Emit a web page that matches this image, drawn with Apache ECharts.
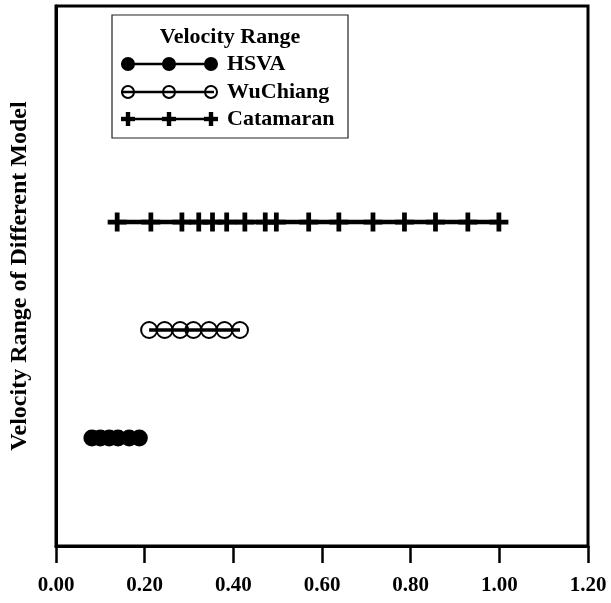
<!DOCTYPE html>
<html>
<head>
<meta charset="utf-8">
<script src="https://cdn.jsdelivr.net/npm/echarts@6/dist/echarts.min.js"></script>
<style>html,body{margin:0;padding:0;background:#fff}#c{width:611px;height:603px}</style>
</head>
<body>
<div id="c"></div>
<script>
var seriesNames = ['HSVA', 'WuChiang', 'Catamaran'];
var levels = [1, 2, 3];
var hsvaX = [0.081, 0.10, 0.12, 0.14, 0.165, 0.188];
var wuchiangX = [0.21, 0.245, 0.28, 0.31, 0.345, 0.38, 0.415];
var catamaranX = [0.138, 0.214, 0.284, 0.322, 0.353, 0.385, 0.426, 0.472, 0.497, 0.570, 0.638, 0.715, 0.786, 0.856, 0.929, 0.999];
var xTicks = [0, 0.2, 0.4, 0.6, 0.8, 1.0, 1.2];
var legendTitle = 'Velocity Range';
var yAxisTitle = 'Velocity Range of Different Model';

var FONT = '"Liberation Serif", "Times New Roman", serif';
var CROSS = 'path://M6,0H10V6H16V10H10V16H6V10H0V6H6Z';

function pts(xs, y) { return xs.map(function (x) { return [x, y]; }); }

var chart = echarts.init(document.getElementById('c'), null, {renderer: 'canvas'});

function legendItem(i, y, symbol) {
  var els = [];
  els.push({type: 'line', shape: {x1: 121, y1: y, x2: 214, y2: y}, style: {stroke: '#000', lineWidth: 2.5}});
  [128, 169, 211].forEach(function (cx) {
    if (symbol === 'dot') {
      els.push({type: 'circle', shape: {cx: cx, cy: y, r: 7}, style: {fill: '#000'}});
    } else if (symbol === 'ring') {
      els.push({type: 'circle', shape: {cx: cx, cy: y, r: 6}, style: {fill: 'rgba(0,0,0,0)', stroke: '#000', lineWidth: 2}});
    } else {
      els.push({type: 'rect', shape: {x: cx - 7, y: y - 2.2, width: 14, height: 4.4}, style: {fill: '#000'}});
      els.push({type: 'rect', shape: {x: cx - 2.2, y: y - 7, width: 4.4, height: 14}, style: {fill: '#000'}});
    }
  });
  els.push({type: 'text', style: {x: 227, y: y, text: seriesNames[i], font: 'bold 22px ' + FONT, fill: '#000', textVerticalAlign: 'middle', textAlign: 'left'}});
  return els;
}

var graphics = [
  {type: 'rect', shape: {x: 112, y: 15, width: 236, height: 123}, style: {fill: '#fff', stroke: '#222', lineWidth: 1.2}, z: 10},
  {type: 'text', style: {x: 230, y: 37, text: legendTitle, font: 'bold 22px ' + FONT, fill: '#000', textAlign: 'center', textVerticalAlign: 'middle'}, z: 11}
];
var syms = ['dot', 'ring', 'cross'];
var ly = [64, 92, 119];
for (var i = 0; i < 3; i++) {
  legendItem(i, ly[i], syms[i]).forEach(function (e) { e.z = 11; graphics.push(e); });
}

chart.setOption({
  animation: false,
  backgroundColor: '#fff',
  grid: {left: 50, right: 23, top: 6, bottom: 57, show: true, borderColor: '#000', borderWidth: 3, backgroundColor: 'transparent'},
  xAxis: {
    type: 'value', min: xTicks[0], max: xTicks[xTicks.length - 1], interval: 0.2,
    axisLine: {show: true, onZero: false, lineStyle: {color: '#000', width: 3}},
    axisTick: {show: true, length: 17, lineStyle: {color: '#000', width: 2.5}},
    axisLabel: {margin: 29, color: '#000', fontFamily: FONT, fontWeight: 'bold', fontSize: 21, formatter: function (v) { return v.toFixed(2); }},
    splitLine: {show: false}
  },
  yAxis: {
    type: 'value', min: 0, max: 5,
    name: yAxisTitle, nameLocation: 'middle', nameGap: 24, nameRotate: 90,
    nameTextStyle: {color: '#000', fontFamily: FONT, fontWeight: 'bold', fontSize: 24},
    axisLine: {show: true, lineStyle: {color: '#000', width: 3}},
    axisTick: {show: false}, axisLabel: {show: false}, splitLine: {show: false}
  },
  graphic: graphics,
  series: [
    {name: seriesNames[0], type: 'line', data: pts(hsvaX, levels[0]), symbol: 'circle', symbolSize: 17, showAllSymbol: true,
     lineStyle: {color: '#000', width: 3}, itemStyle: {color: '#000'}},
    {name: seriesNames[1], type: 'line', data: pts(wuchiangX, levels[1]), symbol: 'circle', symbolSize: 16, showAllSymbol: true,
     lineStyle: {color: '#000', width: 3.5}, itemStyle: {color: 'rgba(0,0,0,0)', borderColor: '#000', borderWidth: 2}, z: 3},
    {name: seriesNames[2], type: 'line', data: pts(catamaranX, levels[2]), symbol: CROSS, symbolSize: 19, showAllSymbol: true,
     lineStyle: {color: '#000', width: 4.5}, itemStyle: {color: '#000'}}
  ]
});
</script>
</body>
</html>
